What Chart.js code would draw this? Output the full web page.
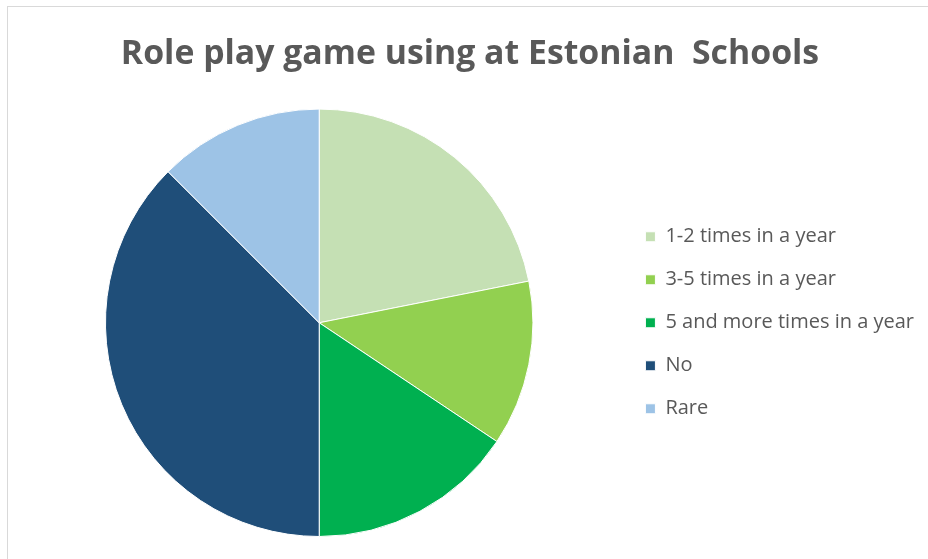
<!DOCTYPE html>
<html>
<head>
<meta charset="utf-8">
<script src="https://cdn.jsdelivr.net/npm/chart.js@4"></script>
<style>
  html, body { margin: 0; padding: 0; background: #fff; overflow: hidden; }
  #frame { position: absolute; left: 7px; top: 6px; width: 1000px; height: 1000px; border: 1px solid #d9d9d9; box-sizing: border-box; }
  #wrap { position: absolute; left: 0; top: 0; width: 928px; height: 559px; }
</style>
</head>
<body>
<div id="frame"></div>
<div id="wrap"><canvas id="c"></canvas></div>
<script>
const titleText = 'Role play game using at Estonian  Schools';
const categories = ['1-2 times in a year', '3-5 times in a year', '5 and more times in a year', 'No', 'Rare'];
const counts = [7, 4, 5, 12, 4];
const sliceColors = ['#C5E0B4', '#92D050', '#00B050', '#1F4E79', '#9DC3E6'];

new Chart(document.getElementById('c'), {
  type: 'pie',
  data: {
    labels: categories,
    datasets: [{
      data: counts,
      backgroundColor: sliceColors,
      borderColor: '#ffffff',
      borderWidth: 1
    }]
  },
  options: {
    responsive: true,
    maintainAspectRatio: false,
    animation: false,
    layout: { padding: { left: 16, right: 4, top: 0, bottom: 22 } },
    plugins: {
      title: {
        display: true,
        text: titleText,
        color: '#595959',
        font: { family: 'Open Sans', size: 33.8, weight: 'bold' },
        padding: { top: 34, bottom: 34 }
      },
      legend: {
        position: 'right',
        align: 'center',
        fullSize: false,
        labels: {
          color: '#595959',
          font: { family: 'Open Sans', size: 20 },
          boxWidth: 10,
          boxHeight: 10,
          padding: 23
        }
      },
      tooltip: { enabled: false }
    }
  }
});
</script>
</body>
</html>
